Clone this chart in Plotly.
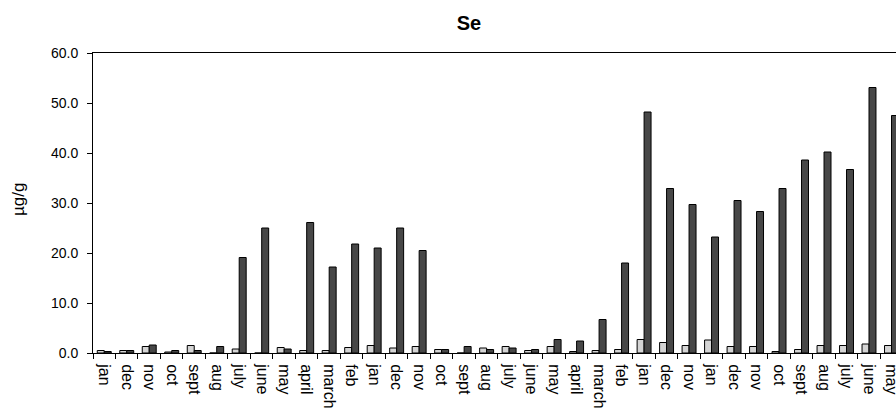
import plotly.graph_objects as go

months = ["jan", "dec", "nov", "oct", "sept", "aug", "july", "june", "may", "april", "march", "feb",
          "jan", "dec", "nov", "oct", "sept", "aug", "july", "june", "may", "april", "march", "feb",
          "jan", "dec", "nov",
          "jan", "dec", "nov", "oct", "sept", "aug", "july", "june", "may"]

light_vals = [0.5, 0.5, 1.3, 0.2, 1.5, 0.0, 0.8, 0.0, 1.1, 0.5, 0.5, 1.1,
              1.5, 1.0, 1.3, 0.7, 0.0, 1.0, 1.3, 0.5, 1.3, 0.3, 0.5, 0.7,
              2.7, 2.1, 1.5,
              2.6, 1.3, 1.3, 0.3, 0.7, 1.5, 1.5, 1.8, 1.5]

dark_vals = [0.3, 0.5, 1.6, 0.5, 0.5, 1.3, 19.1, 25.0, 0.8, 26.1, 17.2, 21.8,
             21.0, 25.0, 20.5, 0.7, 1.3, 0.7, 1.0, 0.7, 2.7, 2.4, 6.7, 18.0,
             48.2, 32.9, 29.7,
             23.2, 30.5, 28.3, 32.9, 38.6, 40.2, 36.7, 53.1, 47.5]

positions = list(range(len(months)))
FONT = "Liberation Sans, Arial, sans-serif"

fig = go.Figure()
fig.add_trace(go.Bar(x=positions, y=light_vals, name="light",
                     marker=dict(color="#d4d4d4", line=dict(color="#000000", width=1))))
fig.add_trace(go.Bar(x=positions, y=dark_vals, name="dark",
                     marker=dict(color="#474747", line=dict(color="#000000", width=1))))

fig.update_layout(
    width=896, height=411,
    margin=dict(l=93, r=0, t=53, b=58, autoexpand=False),
    paper_bgcolor="white", plot_bgcolor="white",
    barmode="group", bargap=0.38, bargroupgap=0.0,
    showlegend=False,
    font=dict(family=FONT, color="black"),
    title=dict(text="<b>Se</b>", x=469/896, xref="container", xanchor="center",
               y=1 - 23/411, yref="container", yanchor="middle",
               font=dict(family=FONT, size=20, color="black")),
    xaxis=dict(
        range=[-0.5, 35.2], automargin=False,
        tickmode="array", tickvals=positions, ticktext=months,
        tickangle=90, ticks="outside", ticklen=7, tickcolor="rgba(0,0,0,0)",
        ticklabeloverflow="allow",
        showgrid=False, zeroline=False,
        showline=True, linecolor="black", linewidth=1, mirror=True,
        tickfont=dict(family=FONT, size=16, color="black"),
        minor=dict(tickmode="linear", tick0=-0.5, dtick=1, ticks="outside",
                   ticklen=5, tickcolor="black", tickwidth=1, showgrid=False),
    ),
    yaxis=dict(
        range=[0, 60], tickmode="linear", tick0=0, dtick=10, tickformat=".1f",
        automargin=False,
        ticks="outside", ticklen=5, tickcolor="black", ticklabelstandoff=6,
        showgrid=False, zeroline=False,
        showline=True, linecolor="black", linewidth=1, mirror=False,
        tickfont=dict(family=FONT, size=14, color="black"),
    ),
    annotations=[dict(text="µg/g", textangle=-90, xref="paper", yref="paper",
                      x=(18 - 93) / 803, y=0.51, xanchor="center", yanchor="middle",
                      showarrow=False, font=dict(family=FONT, size=17, color="black"))],
)

fig.write_html("out.html", config={"displayModeBar": False},
               post_script="document.body.style.margin='0';document.body.style.overflow='hidden';")
